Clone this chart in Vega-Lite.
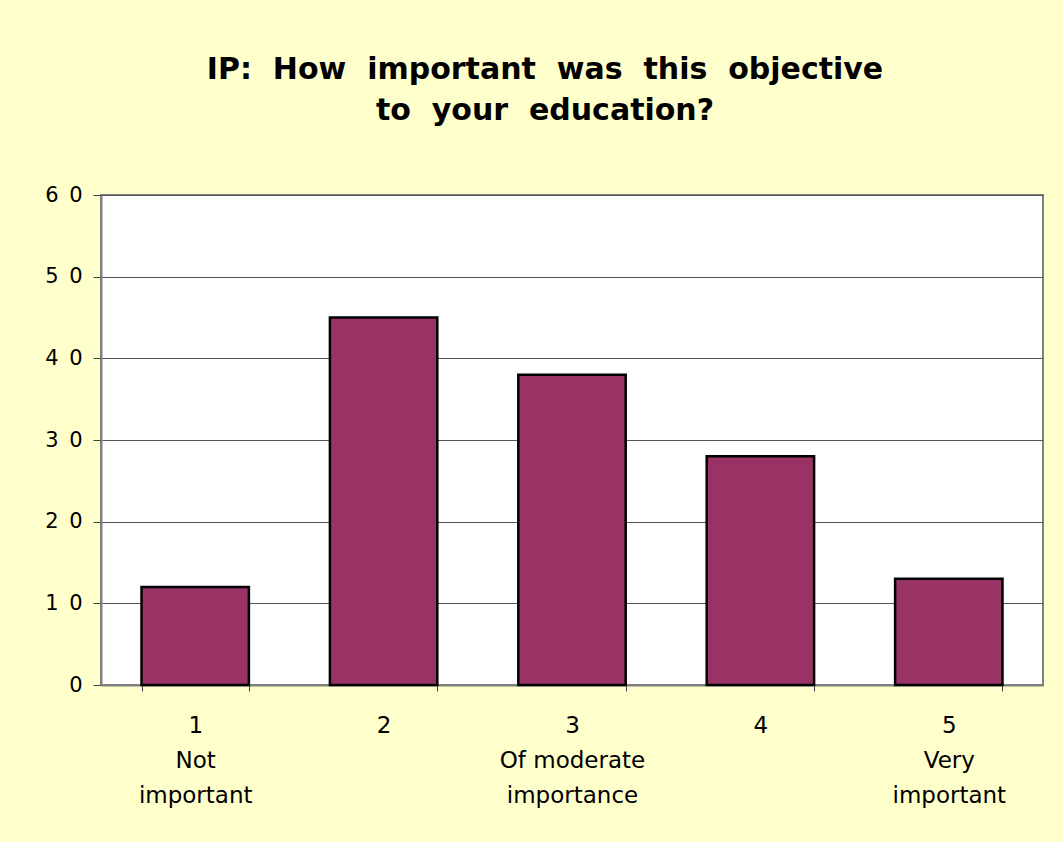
{
  "$schema": "https://vega.github.io/schema/vega-lite/v6.json",
  "width": 942,
  "height": 490,
  "autosize": "none",
  "padding": {"left": 101, "top": 195, "right": 20, "bottom": 157},
  "background": "#FFFFCC",
  "title": {
    "text": ["IP:\u00a0 How\u00a0 important\u00a0 was\u00a0 this\u00a0 objective", "to\u00a0 your\u00a0 education?"],
    "font": "DejaVu Sans",
    "fontSize": 30,
    "fontWeight": "bold",
    "color": "#000000",
    "lineHeight": 41,
    "anchor": "middle",
    "baseline": "alphabetic",
    "dx": -27,
    "offset": 34
  },
  "config": {
    "view": {"stroke": "#808080", "strokeWidth": 2, "fill": "#FFFFFF"},
    "axis": {
      "labelFont": "DejaVu Sans",
      "labelColor": "#000000",
      "domainColor": "#808080",
      "domainWidth": 2,
      "tickColor": "#404040",
      "tickWidth": 1,
      "gridColor": "#555555",
      "gridWidth": 1,
      "gridOpacity": 1,
      "title": null
    }
  },
  "data": {
    "values": [
      {"rating": "1", "count": 12},
      {"rating": "2", "count": 45},
      {"rating": "3", "count": 38},
      {"rating": "4", "count": 28},
      {"rating": "5", "count": 13}
    ]
  },
  "mark": {"type": "bar", "color": "#993366", "stroke": "#000000", "strokeWidth": 2.5},
  "encoding": {
    "x": {
      "field": "rating",
      "type": "nominal",
      "sort": null,
      "scale": {"paddingInner": 0.43, "paddingOuter": 0.215},
      "axis": {
        "labelAngle": 0,
        "labelFontSize": 23,
        "grid": false,
        "tickBand": "extent",
        "tickSize": 6,
        "labelPadding": 23,
        "labelBaseline": "top",
        "labelLineHeight": 35,
        "labelExpr": "datum.value == '1' ? ['1', 'Not', 'important'] : datum.value == '3' ? ['3', 'Of moderate', 'importance'] : datum.value == '5' ? ['5', 'Very', 'important'] : datum.value"
      }
    },
    "y": {
      "field": "count",
      "type": "quantitative",
      "scale": {"domain": [0, 60]},
      "axis": {
        "values": [0, 10, 20, 30, 40, 50, 60],
        "labelFontSize": 21,
        "tickSize": 8,
        "labelPadding": 11,
        "grid": true,
        "labelExpr": "datum.value >= 10 ? floor(datum.value / 10) + '\u2002' + (datum.value % 10) : datum.label"
      }
    }
  }
}
